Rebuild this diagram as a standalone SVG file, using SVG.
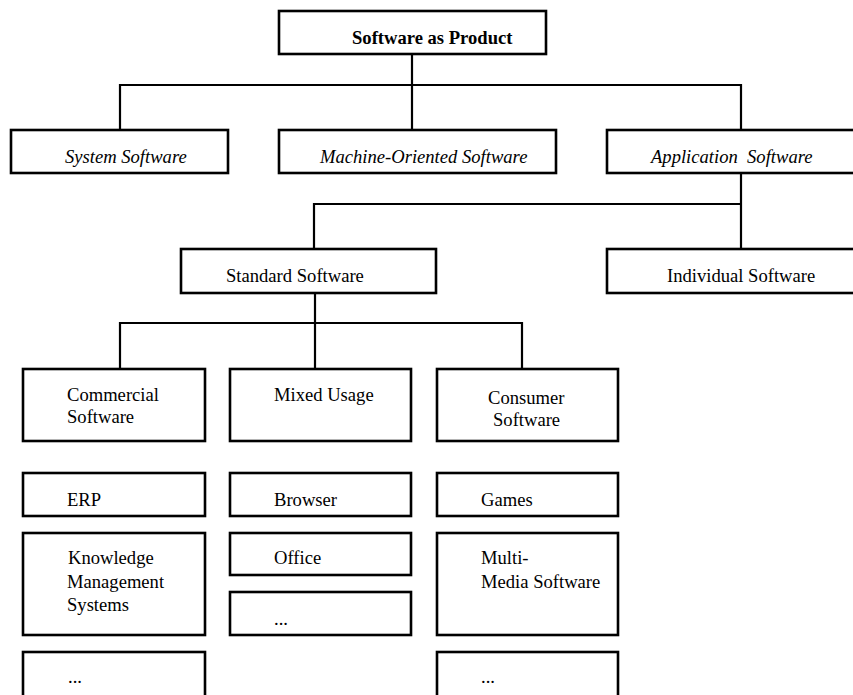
<svg xmlns="http://www.w3.org/2000/svg" width="853" height="695" viewBox="0 0 853 695">
<style>
.box{fill:#fff;stroke:#000;stroke-width:2.6}
.ln{fill:none;stroke:#000;stroke-width:2.2}
text{font-family:"Liberation Serif","Times New Roman",serif;font-size:18.6px;fill:#000}
.b{font-weight:bold}
.i{font-style:italic}
</style>
<rect width="853" height="695" fill="#fff"/>
<g id="connectors">
<path class="ln" d="M412,55V129M120,129V85H741V129"/>
<path class="ln" d="M741,174V248M314,248V204H741"/>
<path class="ln" d="M315,294V368M120,368V323H522V368"/>
</g>
<g id="n-product"><rect class="box" x="279" y="11" width="267" height="43"/><text class="b" x="352" y="44">Software as Product</text></g>
<g id="n-system"><rect class="box" x="11" y="130" width="217" height="43"/><text class="i" x="65" y="163">System Software</text></g>
<g id="n-machine"><rect class="box" x="279" y="130" width="277" height="43"/><text class="i" x="320" y="163">Machine-Oriented Software</text></g>
<g id="n-application"><rect class="box" x="607" y="130" width="252" height="43"/><text class="i" x="651" y="163" xml:space="preserve">Application  Software</text></g>
<g id="n-standard"><rect class="box" x="181" y="249" width="255" height="44"/><text x="226" y="282">Standard Software</text></g>
<g id="n-individual"><rect class="box" x="607" y="249" width="252" height="44"/><text x="667" y="282">Individual Software</text></g>
<g id="n-commercial"><rect class="box" x="23" y="369" width="182" height="72"/><text x="67" y="401">Commercial</text><text x="67" y="423">Software</text></g>
<g id="n-mixed"><rect class="box" x="230" y="369" width="181" height="72"/><text x="274" y="401">Mixed Usage</text></g>
<g id="n-consumer"><rect class="box" x="437" y="369" width="181" height="72"/><text x="488" y="404">Consumer</text><text x="493" y="426">Software</text></g>
<g id="n-erp"><rect class="box" x="23" y="473" width="182" height="43"/><text x="67" y="506">ERP</text></g>
<g id="n-browser"><rect class="box" x="230" y="473" width="181" height="43"/><text x="274" y="506">Browser</text></g>
<g id="n-games"><rect class="box" x="437" y="473" width="181" height="43"/><text x="481" y="506">Games</text></g>
<g id="n-kms"><rect class="box" x="23" y="533" width="182" height="102"/><text x="68" y="564">Knowledge</text><text x="67" y="588">Management</text><text x="67" y="611">Systems</text></g>
<g id="n-office"><rect class="box" x="230" y="533" width="181" height="42"/><text x="274" y="564">Office</text></g>
<g id="n-mixed-more"><rect class="box" x="230" y="592" width="181" height="43"/><text x="274" y="625">...</text></g>
<g id="n-multimedia"><rect class="box" x="437" y="533" width="181" height="102"/><text x="481" y="564">Multi-</text><text x="481" y="588">Media Software</text></g>
<g id="n-commercial-more"><rect class="box" x="23" y="652" width="182" height="48"/><text x="68" y="683">...</text></g>
<g id="n-consumer-more"><rect class="box" x="437" y="652" width="181" height="48"/><text x="481" y="683">...</text></g>
</svg>
